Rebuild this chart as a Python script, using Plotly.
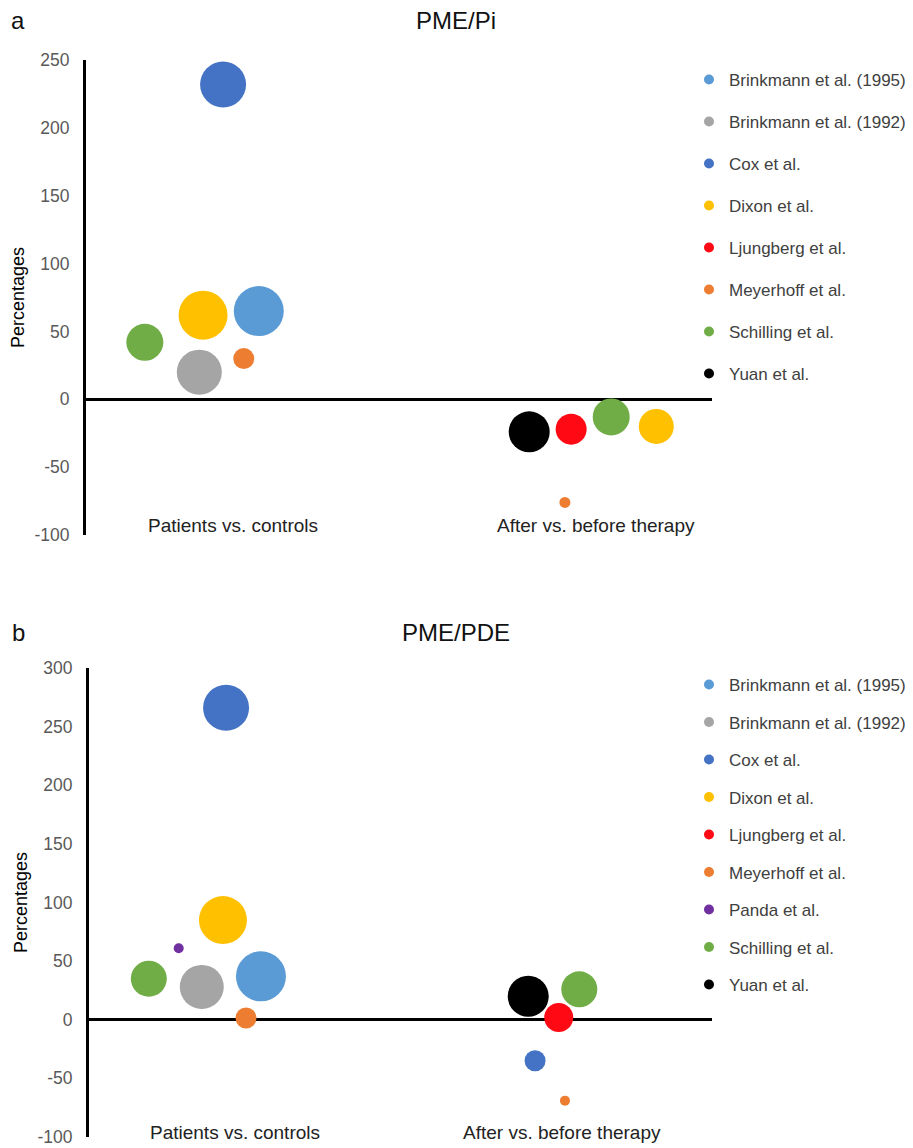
import plotly.graph_objects as go

# ---------------- data ----------------
studies_a = ["Brinkmann et al. (1995)", "Brinkmann et al. (1992)", "Cox et al.", "Dixon et al.",
             "Ljungberg et al.", "Meyerhoff et al.", "Schilling et al.", "Yuan et al."]
studies_b = ["Brinkmann et al. (1995)", "Brinkmann et al. (1992)", "Cox et al.", "Dixon et al.",
             "Ljungberg et al.", "Meyerhoff et al.", "Panda et al.", "Schilling et al.", "Yuan et al."]

colors = {
    "Brinkmann et al. (1995)": "#5B9BD5",
    "Brinkmann et al. (1992)": "#A5A5A5",
    "Cox et al.": "#4472C4",
    "Dixon et al.": "#FFC000",
    "Ljungberg et al.": "#FF0A14",
    "Meyerhoff et al.": "#ED7D31",
    "Panda et al.": "#7030A0",
    "Schilling et al.": "#70AD47",
    "Yuan et al.": "#000000",
}

categories = ["Patients vs. controls", "After vs. before therapy"]

# Panel a: PME/Pi  -> per study: x positions (jittered within category), percentages, bubble weight
a_x = {
    "Brinkmann et al. (1995)": [2.76],
    "Brinkmann et al. (1992)": [1.81],
    "Cox et al.": [2.19],
    "Dixon et al.": [1.87, 9.11],
    "Ljungberg et al.": [7.75],
    "Meyerhoff et al.": [2.52, 7.65],
    "Schilling et al.": [0.94, 8.39],
    "Yuan et al.": [7.08],
}
a_y = {
    "Brinkmann et al. (1995)": [65],
    "Brinkmann et al. (1992)": [20],
    "Cox et al.": [232],
    "Dixon et al.": [62, -20],
    "Ljungberg et al.": [-22],
    "Meyerhoff et al.": [30, -76],
    "Schilling et al.": [42, -13],
    "Yuan et al.": [-24],
}
a_w = {
    "Brinkmann et al. (1995)": [50],
    "Brinkmann et al. (1992)": [45],
    "Cox et al.": [46],
    "Dixon et al.": [49, 35],
    "Ljungberg et al.": [31],
    "Meyerhoff et al.": [21, 11],
    "Schilling et al.": [37, 37],
    "Yuan et al.": [41],
}

# Panel b: PME/PDE
b_x = {
    "Brinkmann et al. (1995)": [2.76],
    "Brinkmann et al. (1992)": [1.81],
    "Cox et al.": [2.20, 7.16],
    "Dixon et al.": [2.15],
    "Ljungberg et al.": [7.54],
    "Meyerhoff et al.": [2.52, 7.64],
    "Panda et al.": [1.44],
    "Schilling et al.": [0.96, 7.87],
    "Yuan et al.": [7.05],
}
b_y = {
    "Brinkmann et al. (1995)": [37],
    "Brinkmann et al. (1992)": [28],
    "Cox et al.": [266, -35],
    "Dixon et al.": [85],
    "Ljungberg et al.": [2],
    "Meyerhoff et al.": [1.5, -69],
    "Panda et al.": [61],
    "Schilling et al.": [35, 26],
    "Yuan et al.": [20],
}
b_w = {
    "Brinkmann et al. (1995)": [50],
    "Brinkmann et al. (1992)": [44],
    "Cox et al.": [46, 21],
    "Dixon et al.": [48],
    "Ljungberg et al.": [29],
    "Meyerhoff et al.": [21, 10],
    "Panda et al.": [10],
    "Schilling et al.": [36, 36],
    "Yuan et al.": [41],
}

cat_x_a = [2.35, 8.15]
cat_x_b = [2.34, 7.59]

ticks_a = [250, 200, 150, 100, 50, 0, -50, -100]
ticks_b = [300, 250, 200, 150, 100, 50, 0, -50, -100]

# ---------------- figure ----------------
# page body has an 8px margin, so the figure is placed at (8, 8) in the window
OFF = 8
W, H = 913 - OFF, 1148 - OFF
FONT = "Liberation Sans, Arial, sans-serif"

def px(X):
    return min(1, max(0, (X - OFF) / W))

def py(Y):
    return min(1, max(0, 1 - (Y - OFF) / H))

fig = go.Figure()

def add_panel(studies, xs, ys, ws, xa, ya, legend):
    for s in studies:
        fig.add_trace(go.Scatter(
            x=xs[s], y=ys[s], mode="markers", xaxis=xa, yaxis=ya,
            marker=dict(size=ws[s], sizemode="diameter", color=colors[s], line=dict(width=0), opacity=1),
            showlegend=False, hoverinfo="skip", name=s))
    for s in studies:
        fig.add_trace(go.Scatter(
            x=[None], y=[None], mode="markers", xaxis=xa, yaxis=ya,
            marker=dict(size=10, color=colors[s], line=dict(width=0)),
            name=s, legend=legend, legendgroup=legend + s, showlegend=True))

add_panel(studies_a, a_x, a_y, a_w, "x", "y", "legend")
add_panel(studies_b, b_x, b_y, b_w, "x2", "y2", "legend2")

def ytext(t):
    return [str(v) for v in t]

xa_dom = [px(86), px(712)]
xb_dom = [px(89), px(712)]
ya_dom = [py(535), py(60)]
yb_dom = [py(1137), py(668)]

common_x = dict(range=[0, 10], showgrid=False, zeroline=False, showticklabels=False,
                showline=False, ticks="", fixedrange=True, automargin=False)

def yaxis(dom, anchor, rng, ticks):
    return dict(domain=dom, anchor=anchor, range=rng, tickvals=ticks, ticktext=ytext(ticks),
                showgrid=False, zeroline=True, zerolinecolor="black", zerolinewidth=2.5,
                showline=True, linecolor="black", linewidth=3, ticks="", ticklabelstandoff=10,
                ticklabeloverflow="allow",
                tickfont=dict(size=17.5, color="#595959"), automargin=False,
                title=dict(text="Percentages", standoff=6, font=dict(size=18, color="black")))

fig.update_layout(
    width=W, height=H, margin=dict(l=0, r=0, t=0, b=0, autoexpand=False),
    paper_bgcolor="white", plot_bgcolor="white",
    font=dict(family=FONT, size=17, color="#404040"),
    xaxis=dict(domain=xa_dom, anchor="y", **common_x),
    xaxis2=dict(domain=xb_dom, anchor="y2", **common_x),
    yaxis=yaxis(ya_dom, "x", [-100, 250], ticks_a),
    yaxis2=yaxis(yb_dom, "x2", [-100, 300], ticks_b),
    legend=dict(x=px(689), y=py(62), xanchor="left", yanchor="top", traceorder="grouped",
                tracegroupgap=16.9, font=dict(size=17, color="#404040"), bgcolor="rgba(0,0,0,0)"),
    legend2=dict(x=px(689), y=py(667), xanchor="left", yanchor="top", traceorder="grouped",
                 tracegroupgap=12.4, font=dict(size=17, color="#404040"), bgcolor="rgba(0,0,0,0)"),
)

annotations = []
for i, c in enumerate(categories):
    annotations.append(dict(x=cat_x_a[i], y=-93, xref="x", yref="y", text=c, showarrow=False,
                            yanchor="middle", font=dict(size=19, color="#222222")))
    annotations.append(dict(x=cat_x_b[i], y=-96, xref="x2", yref="y2", text=c, showarrow=False,
                            yanchor="middle", font=dict(size=19, color="#222222")))
annotations += [
    dict(x=px(456), y=py(20), xref="paper", yref="paper", text="PME/Pi", showarrow=False,
         xanchor="center", yanchor="middle", font=dict(size=24, color="#111111")),
    dict(x=px(456), y=py(632), xref="paper", yref="paper", text="PME/PDE", showarrow=False,
         xanchor="center", yanchor="middle", font=dict(size=24, color="#111111")),
    dict(x=px(18), y=py(20), xref="paper", yref="paper", text="a", showarrow=False,
         xanchor="center", yanchor="middle", font=dict(size=24, color="#111111")),
    dict(x=px(18), y=py(632), xref="paper", yref="paper", text="b", showarrow=False,
         xanchor="center", yanchor="middle", font=dict(size=24, color="#111111")),
]
fig.update_layout(annotations=annotations)

fig.write_html("out.html")
